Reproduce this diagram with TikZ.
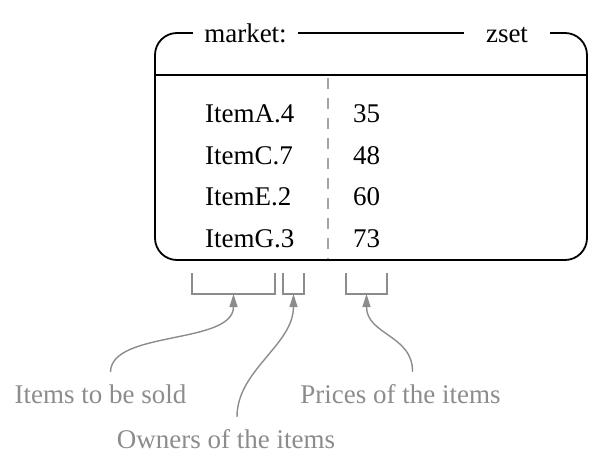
\documentclass[tikz,border=0pt]{standalone}
\usepackage{fontspec}
\setmainfont{Liberation Serif}
\usetikzlibrary{arrows.meta, positioning, calc}
\definecolor{notegray}{RGB}{140, 140, 140}
\definecolor{dashgray}{RGB}{165, 165, 165}

\begin{document}
\begin{tikzpicture}[
    x=1pt, y=-1pt,
    font=\fontsize{27}{32}\selectfont,
    keybox/.style={draw=black, line width=1.8pt, rounded corners=22pt, minimum width=432pt, minimum height=227pt, inner sep=0pt},
    title/.style={fill=white, inner ysep=2pt, anchor=base},
    entry/.style={anchor=base west, inner sep=0pt},
    bracket/.style={draw=notegray, line width=1.4pt},
    note/.style={text=notegray, anchor=base, inner sep=0pt},
    arrow/.style={draw=notegray, line width=1.4pt, -{Triangle[length=13pt, width=8pt]}}
]
    \useasboundingbox (0,0) rectangle (606,464);

    % the sorted set
    \node[keybox] (zsetbox) at (371,146.5) {};
    \node[title, inner xsep=11pt] (keyname) at (245.5,42) {market:};
    \node[title, inner xsep=22pt] (keytype) at (507,42) {zset};
    \draw[line width=1.3pt] ([yshift=-43pt]zsetbox.north west) -- ([yshift=-43pt]zsetbox.north east);
    \draw[dashgray, line width=1.2pt, dash pattern=on 11pt off 9pt] (328,78) -- (328,259);

    \node[entry] (memberA) at (205,122) {ItemA.4};
    \node[entry] (memberC) at (205,164) {ItemC.7};
    \node[entry] (memberE) at (205,205.5) {ItemE.2};
    \node[entry] (memberG) at (205,247) {ItemG.3};
    \node[entry] (scoreA) at (353,122) {35};
    \node[entry] (scoreC) at (353,164) {48};
    \node[entry] (scoreE) at (353,205.5) {60};
    \node[entry] (scoreG) at (353,247) {73};

    % brackets under the parts
    \draw[bracket] (192,273) |- (275,294) -- (275,273);
    \draw[bracket] (283,273) |- (304,294) -- (304,273);
    \draw[bracket] (346,273) |- (387,294) -- (387,273);
    \coordinate (itempart) at (233.5,294);
    \coordinate (ownerpart) at (293.5,294);
    \coordinate (pricepart) at (366.5,294);

    % notes
    \node[note] (items) at (100.5,403) {Items to be sold};
    \node[note] (prices) at (400.5,403) {Prices of the items};
    \node[note] (owners) at (226,448) {Owners of the items};

    \draw[arrow] ([xshift=10pt, yshift=12pt]items.north) .. controls (111,330) and (233.5,345) .. (itempart);
    \draw[arrow] ([xshift=11pt, yshift=12pt]owners.north) .. controls (237,370) and (293.5,345) .. (ownerpart);
    \draw[arrow] ([xshift=12pt, yshift=12pt]prices.north) .. controls (413,335) and (366.5,335) .. (pricepart);

\end{tikzpicture}
\end{document}
